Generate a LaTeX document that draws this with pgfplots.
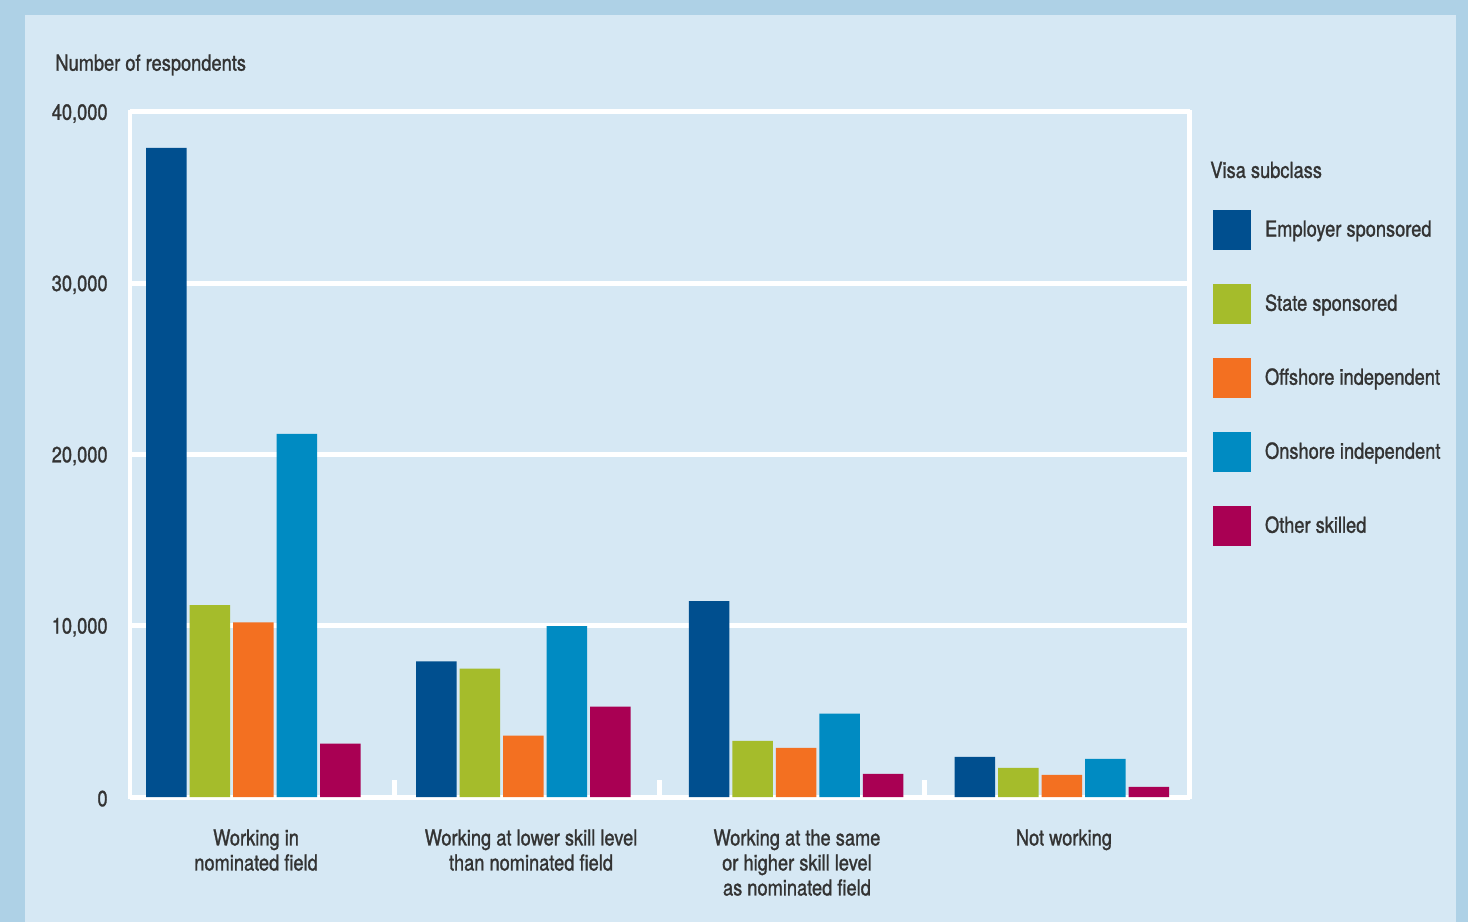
\documentclass[border=0pt]{standalone}
\usepackage{pgfplots}
\pgfplotsset{compat=1.18}
\usepackage{fontspec}
\setmainfont{TeX Gyre Heros}[FakeStretch=0.83, FakeBold=1.2]
\definecolor{bgout}{HTML}{AED1E6}
\definecolor{bgin}{HTML}{D6E8F4}
\definecolor{txt}{HTML}{333333}
\definecolor{emp}{HTML}{004F8F}
\definecolor{sta}{HTML}{A5BC2B}
\definecolor{off}{HTML}{F37021}
\definecolor{ons}{HTML}{008BC2}
\definecolor{oth}{HTML}{A90053}
\pgfplotsset{sqlegend/.style={legend image code/.code={\fill[##1] (0pt,-10pt) rectangle (19pt,10pt);}}}
\begin{document}
\begin{tikzpicture}[text=txt, font=\fontsize{11}{12.5}\selectfont]
\useasboundingbox (0,0) rectangle (734pt,461pt);
\fill[bgout] (0,0) rectangle (734pt,461pt);
\fill[bgin] (12.5pt,0) rectangle (728pt,453.5pt);
\begin{axis}[
  at={(65pt,62.5pt)}, anchor=south west,
  scale only axis, width=529.75pt, height=342.5pt,
  xmin=-0.5, xmax=3.5, ymin=0, ymax=40000,
  ybar=1.55pt, bar width=20.2pt,
  clip=false, scaled ticks=false,
  axis line style={white, line width=2.4pt},
  ymajorgrids, grid style={white, line width=2.5pt},
  ytick={0,10000,20000,30000,40000},
  yticklabels={0,{10,000},{20,000},{30,000},{40,000}},
  xtick={-0.024,1.014,2.018,3.026},
  xticklabels={{Working in\\nominated field},{Working at lower skill level\\than nominated field},{Working at the same\\or higher skill level\\as nominated field},{Not working}},
  major tick length=0pt,
  minor xtick={0.5,1.5,2.5}, minor tick length=8.5pt, tick align=inside,
  xtick pos=bottom, ytick pos=left,
  minor x tick style={white, line width=2.6pt},
  yticklabel style={anchor=east, inner sep=0pt, xshift=-11pt, yshift=-0.8pt},
  xticklabel style={align=center, anchor=north, inner sep=0pt, yshift=-16pt},
  legend style={at={(1.0222,0.8569)}, anchor=north west, draw=none, fill=none,
    inner sep=0pt, outer sep=0pt, row sep=17pt, nodes={inner sep=0pt},
    /tikz/every odd column/.append style={column sep=7pt}},
  legend cell align=left,
]
\addplot[fill=emp, draw=none, sqlegend] coordinates {(-0.034,37900) (0.985,7920) (2.015,11440) (3.018,2350)};
\addplot[fill=sta, draw=none, sqlegend] coordinates {(-0.034,11200) (0.985,7500) (2.015,3280) (3.018,1700)};
\addplot[fill=off, draw=none, sqlegend] coordinates {(-0.034,10200) (0.985,3580) (2.015,2870) (3.018,1290)};
\addplot[fill=ons, draw=none, sqlegend] coordinates {(-0.034,21200) (0.985,9980) (2.015,4870) (3.018,2230)};
\addplot[fill=oth, draw=none, sqlegend] coordinates {(-0.034,3110) (0.985,5280) (2.015,1350) (3.018,590)};
\legend{Employer sponsored, State sponsored, Offshore independent, Onshore independent, Other skilled}
\node[anchor=west, inner sep=0pt] at (rel axis cs:1.0193,0.9153) {Visa subclass};
\node[anchor=west, inner sep=0pt] at (rel axis cs:-0.0708,1.0686) {Number of respondents};
\end{axis}
\end{tikzpicture}
\end{document}
